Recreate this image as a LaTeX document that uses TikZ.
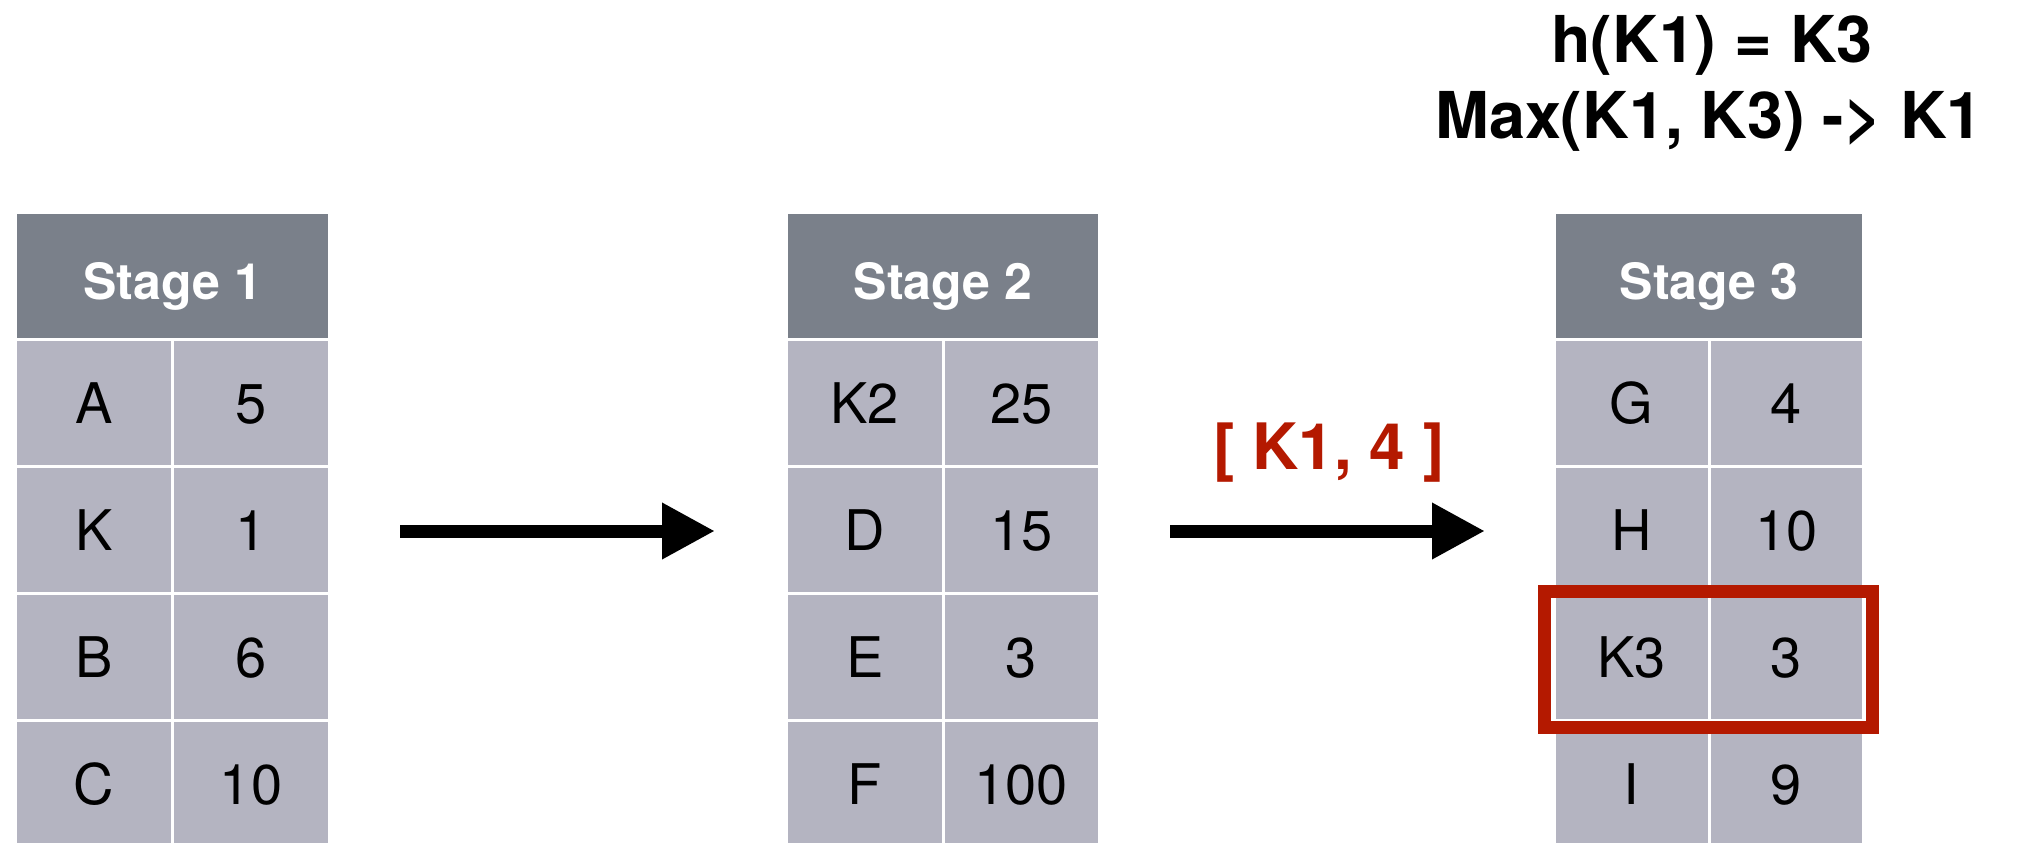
\documentclass[tikz,border=0pt]{standalone}
\usepackage{fontspec}
\setmainfont{TeX Gyre Heros}
\usetikzlibrary{arrows.meta}

\definecolor{headgray}{HTML}{7A808A}
\definecolor{cellgray}{HTML}{B4B4C1}
\definecolor{hired}{HTML}{B41900}

\tikzset{
  headcell/.style={fill=headgray, text=white,
    font=\bfseries\fontsize{25}{25}\selectfont,
    minimum height=62pt, inner sep=0pt, outer sep=0pt,
    text height=23.8pt, text depth=0pt, anchor=north west},
  datacell/.style={fill=cellgray, text=black,
    font=\fontsize{28}{28}\selectfont,
    minimum height=62pt, inner sep=0pt, outer sep=0pt,
    text height=20.2pt, text depth=0pt, anchor=north west},
  bigarrow/.style={line width=6.5pt, draw=black,
    -{Triangle[length=26.5pt, width=26.5pt]}},
  titletext/.style={font=\bfseries\fontsize{32.3}{32.3}\selectfont, inner sep=0pt, anchor=base},
  redlabel/.style={font=\bfseries\fontsize{32}{32}\selectfont, text=hired, inner sep=0pt, anchor=base},
  redframe/.style={draw=hired, line width=6.5pt}
}

% #1 name, #2 left edge, #3 column width, #4 title, #5 key/value rows
\newcommand\stagetab[5]{%
  \node[headcell, minimum width={(2*#3+3)*0.5pt}] (#1-h) at (#2,214) {#4};
  \foreach \k/\v [count=\i] in {#5} {
    \node[datacell, minimum width={#3*0.5pt}] (#1-k\i) at (#2,{341+(\i-1)*127}) {\k};
    \node[datacell, minimum width={#3*0.5pt}] (#1-v\i) at ({#2+#3+3},{341+(\i-1)*127}) {\v};
  }
}

\begin{document}
\begin{tikzpicture}[x=0.5pt, y=-0.5pt]
  \useasboundingbox[fill=white] (0,0) rectangle (2020,842);

  \stagetab{sa}{17}{154}{Stage 1}{A/5, K/1, B/6, C/10}
  \stagetab{sb}{788}{153.5}{Stage 2}{K2/25, D/15, E/3, F/100}
  \stagetab{sc}{1556}{151.5}{Stage 3}{G/4, H/10, K3/3, I/9}

  % highlight around the matching row
  \draw[redframe] (1544,591.5) rectangle (1872,727.5);

  % flow arrows
  \coordinate (a1s) at (400,531);
  \coordinate (a1e) at (715,531);
  \coordinate (a2s) at (1170,531);
  \coordinate (a2e) at (1485,531);
  \draw[bigarrow] (a1s) -- (a1e);
  \draw[bigarrow] (a2s) -- (a2e);

  \node[redlabel] (msg) at (1329,469) {[ K1, 4 ]};

  \node[titletext] (title1) at (1712,62) {h(K1) = K3};
  \node[titletext] (title2) at (1709,138) {Max(K1, K3) -> K1};
\end{tikzpicture}
\end{document}
